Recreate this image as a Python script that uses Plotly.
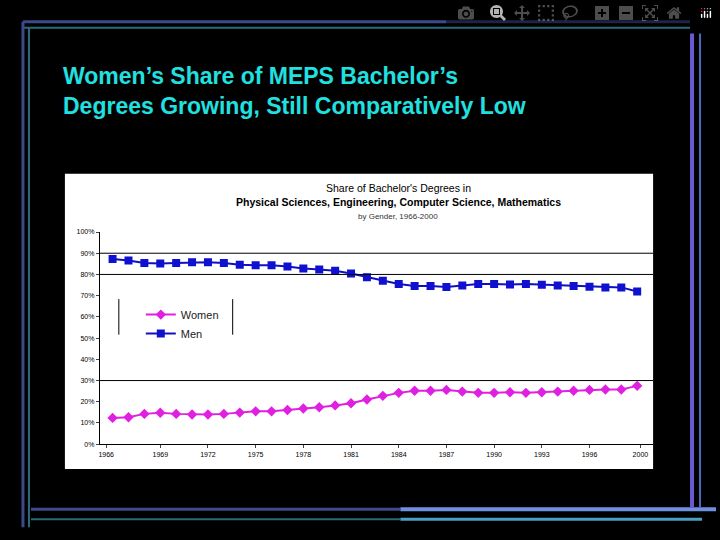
import plotly.graph_objects as go

years = list(range(1966, 2000))
women = [12.4,12.7,14.3,14.8,14.3,14.0,14.0,14.3,14.9,15.5,15.5,16.1,16.8,17.4,18.3,19.3,21.1,22.8,24.2,25.2,25.2,25.6,24.8,24.2,24.2,24.5,24.2,24.5,24.8,25.2,25.6,25.8,25.8,27.5]
men = [87.3,86.6,85.4,85.2,85.4,85.7,85.7,85.4,84.6,84.3,84.3,83.7,82.8,82.3,81.7,80.4,78.7,77.0,75.5,74.5,74.5,74.1,74.8,75.5,75.5,75.3,75.5,75.2,74.8,74.5,74.2,73.9,73.9,72.0]
tick_vals = [1965.6,1969.0,1972.0,1975.0,1978.0,1981.0,1984.0,1987.0,1990.0,1993.0,1996.0,1999.2]
tick_text = ["1966","1969","1972","1975","1978","1981","1984","1987","1990","1993","1996","2000"]

W, H = 720, 540
def px(x): return x / W
def py(y): return 1 - y / H

fig = go.Figure()
fig.add_trace(go.Scatter(x=years, y=women, name="Women", mode="lines+markers",
    line=dict(color="#E020E0", width=2), marker=dict(symbol="diamond", size=8, color="#E020E0")))
fig.add_trace(go.Scatter(x=years, y=men, name="Men", mode="lines+markers",
    line=dict(color="#1010C0", width=2), marker=dict(symbol="square", size=8, color="#1010D0")))

shapes = [
    dict(type="rect", xref="paper", yref="paper", x0=px(64), x1=px(653), y0=py(471), y1=py(172),
         fillcolor="white", line=dict(width=0), layer="below"),
]
for v in [30, 80, 90]:
    shapes.append(dict(type="line", xref="x", yref="y", x0=1965.2, x1=2000, y0=v, y1=v, line=dict(color="black", width=1)))
for xx in [118, 232]:
    shapes.append(dict(type="line", xref="paper", yref="paper", x0=px(xx), x1=px(xx), y0=py(299), y1=py(335), line=dict(color="black", width=1)))
deco = [
    (22, 18, 690, 18, "#3a4a8a", 3), (22, 24, 690, 24, "#2a6a7a", 2),
    (22, 18, 22, 530, "#3a4a8a", 3), (28, 24, 28, 530, "#2a6a7a", 2),
    (30, 512, 400, 512, "#3a4a8a", 3), (400, 512, 716, 512, "#6f8fe0", 4),
    (30, 522, 400, 522, "#2a6a7a", 2), (400, 522, 702, 522, "#4aa0c0", 3),
    (692, 30, 692, 510, "#6a5ad0", 4), (700, 30, 700, 510, "#4a6ac0", 2),
]
for x0, y0, x1, y1, c, w in deco:
    shapes.append(dict(type="line", xref="paper", yref="paper", x0=px(x0), x1=px(x1), y0=py(y0), y1=py(y1), line=dict(color=c, width=w)))

fig.update_layout(
    width=W, height=H, paper_bgcolor="black", plot_bgcolor="rgba(0,0,0,0)",
    margin=dict(l=0, r=0, t=0, b=0), shapes=shapes,
    font=dict(family="Liberation Sans, Arial", color="black"),
    xaxis=dict(domain=[px(99), px(653)], range=[1965.2, 2000], tickvals=tick_vals, ticktext=tick_text,
               showgrid=False, showline=True, linecolor="black", ticks="outside", ticklen=3,
               tickfont=dict(size=7, color="black"), zeroline=False),
    yaxis=dict(domain=[py(446), py(231)], range=[0, 100], dtick=10, ticksuffix="%",
               showgrid=False, showline=True, linecolor="black", ticks="outside", ticklen=3,
               tickfont=dict(size=7, color="black"), zeroline=False),
    legend=dict(x=px(140), y=py(300), xanchor="left", yanchor="top", bgcolor="rgba(0,0,0,0)",
                font=dict(size=11, color="#222"), tracegroupgap=0),
    annotations=[
        dict(text="<b>Women’s Share of MEPS Bachelor’s<br>Degrees Growing, Still Comparatively Low</b>",
             xref="paper", yref="paper", x=px(60), y=py(58), xanchor="left", yanchor="top", showarrow=False,
             align="left", font=dict(size=23, color="#20E0E0", family="Liberation Sans, Arial")),
        dict(text="Share of Bachelor's Degrees in<br><b>Physical Sciences, Engineering, Computer Science, Mathematics</b>",
             xref="paper", yref="paper", x=px(398), y=py(178), yanchor="top", showarrow=False,
             font=dict(size=10.5, color="black")),
        dict(text="by Gender, 1966-2000", xref="paper", yref="paper", x=px(398), y=py(209), yanchor="top",
             showarrow=False, font=dict(size=8, color="#333")),
    ],
)
fig.write_html("out.html", post_script="document.body.style.margin='0';document.body.style.background='black';")
